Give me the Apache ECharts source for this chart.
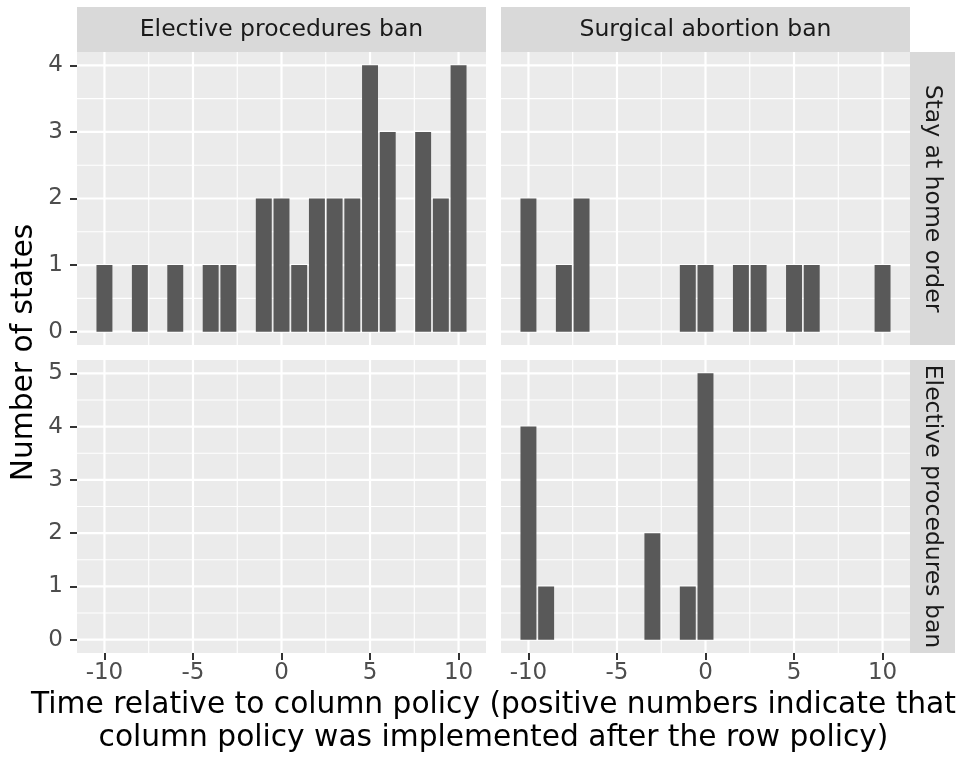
<!DOCTYPE html>
<html><head><meta charset="utf-8">
<script src="https://cdn.jsdelivr.net/npm/echarts@6/dist/echarts.min.js"></script>
<style>html,body{margin:0;padding:0;background:#fff}#c{width:961px;height:759px}</style>
</head><body><div id="c"></div>
<script>
// ---- data ----
const colStrips = ['Elective procedures ban', 'Surgical abortion ban'];
const rowStrips = ['Stay at home order', 'Elective procedures ban'];
const xTicks = [-10, -5, 0, 5, 10];
const xMinor = [-7.5, -2.5, 2.5, 7.5];
const yTicksTop = [0, 1, 2, 3, 4];
const yMinorTop = [0.5, 1.5, 2.5, 3.5];
const yTicksBottom = [0, 1, 2, 3, 4, 5];
const yMinorBottom = [0.5, 1.5, 2.5, 3.5, 4.5];
// row: Stay at home order, col: Elective procedures ban
const stayElecX = [-10, -8, -6, -4, -3, -1, 0, 1, 2, 3, 4, 5, 6, 8, 9, 10];
const stayElecN = [1, 1, 1, 1, 1, 2, 2, 1, 2, 2, 2, 4, 3, 3, 2, 4];
// row: Stay at home order, col: Surgical abortion ban
const staySurgX = [-10, -8, -7, -1, 0, 2, 3, 5, 6, 10];
const staySurgN = [2, 1, 2, 1, 1, 1, 1, 1, 1, 1];
// row: Elective procedures ban, col: Elective procedures ban (empty)
const elecElecX = [];
const elecElecN = [];
// row: Elective procedures ban, col: Surgical abortion ban
const elecSurgX = [-10, -9, -3, -1, 0];
const elecSurgN = [4, 1, 2, 1, 5];
const xTitle = 'Time relative to column policy (positive numbers indicate that\ncolumn policy was implemented after the row policy)';
const yTitle = 'Number of states';

// ---- layout ----
const FONT = '"DejaVu Sans", sans-serif';
const PL = [77, 501], PW = 409;
const PT = [52, 360], PH = 293;
const STRIP = 45;
const xRange = [-11.55, 11.55];
const yRanges = [[-0.2, 4.2], [-0.25, 5.25]];
const yTicks = [yTicksTop, yTicksBottom];
const yMinor = [yMinorTop, yMinorBottom];
const panels = [
  [stayElecX, stayElecN], [staySurgX, staySurgN],
  [elecElecX, elecElecN], [elecSurgX, elecSurgN]
];

const grids = [], xAxes = [], yAxes = [], series = [], graphics = [];

function renderGrid(params, api) {
  const cs = params.coordSys;
  const orient = api.value(2), major = api.value(3);
  const p = api.coord([api.value(0), api.value(1)]);
  const shape = orient === 0
    ? { x1: p[0], y1: cs.y, x2: p[0], y2: cs.y + cs.height }
    : { x1: cs.x, y1: p[1], x2: cs.x + cs.width, y2: p[1] };
  return { type: 'line', shape, silent: true,
    style: { stroke: '#FFFFFF', lineWidth: major ? 2.2 : 1.1 } };
}
function renderBar(params, api) {
  const x = api.value(0), y = api.value(1);
  const p0 = api.coord([x - 0.45, y]);
  const p1 = api.coord([x + 0.45, 0]);
  return { type: 'rect',
    shape: { x: p0[0], y: p0[1], width: p1[0] - p0[0], height: p1[1] - p0[1] },
    style: { fill: '#595959' } };
}

for (let r = 0; r < 2; r++) {
  for (let c = 0; c < 2; c++) {
    const i = r * 2 + c;
    grids.push({ left: PL[c], top: PT[r], width: PW, height: PH, show: true,
      backgroundColor: '#EBEBEB', borderWidth: 0, containLabel: false });
    xAxes.push({ type: 'value', gridIndex: i, min: xRange[0], max: xRange[1], position: 'bottom',
      axisLine: { show: false, onZero: false }, splitLine: { show: false },
      axisTick: { show: r === 1, length: 7, customValues: xTicks,
        lineStyle: { color: '#333333', width: 2 } },
      axisLabel: { show: r === 1, customValues: xTicks, margin: 9,
        color: '#4D4D4D', fontSize: 23, fontFamily: FONT } });
    yAxes.push({ type: 'value', gridIndex: i, min: yRanges[r][0], max: yRanges[r][1], position: 'left',
      axisLine: { show: false, onZero: false }, splitLine: { show: false },
      axisTick: { show: c === 0, length: 7, customValues: yTicks[r],
        lineStyle: { color: '#333333', width: 2 } },
      axisLabel: { show: c === 0, customValues: yTicks[r], margin: 14,
        color: '#4D4D4D', fontSize: 23, fontFamily: FONT } });
    const gl = [];
    xMinor.forEach(v => gl.push([v, 0, 0, 0]));
    yMinor[r].forEach(v => gl.push([0, v, 1, 0]));
    xTicks.forEach(v => gl.push([v, 0, 0, 1]));
    yTicks[r].forEach(v => gl.push([0, v, 1, 1]));
    series.push({ type: 'custom', xAxisIndex: i, yAxisIndex: i, z: 1, silent: true,
      renderItem: renderGrid, data: gl, animation: false });
    const [xs, ns] = panels[i];
    series.push({ type: 'custom', xAxisIndex: i, yAxisIndex: i, z: 2,
      renderItem: renderBar, data: xs.map((x, k) => [x, ns[k]]), animation: false });
  }
}

colStrips.forEach((s, c) => {
  graphics.push({ type: 'rect', x: PL[c], y: PT[0] - STRIP,
    shape: { width: PW, height: STRIP }, style: { fill: '#D9D9D9' } });
  graphics.push({ type: 'text', x: PL[c] + PW / 2, y: PT[0] - STRIP / 2,
    style: { text: s, fill: '#1A1A1A', font: '23.5px ' + FONT, align: 'center', verticalAlign: 'middle' } });
});
rowStrips.forEach((s, r) => {
  graphics.push({ type: 'rect', x: PL[1] + PW, y: PT[r],
    shape: { width: STRIP, height: PH }, style: { fill: '#D9D9D9' } });
  graphics.push({ type: 'text', x: PL[1] + PW + STRIP / 2, y: PT[r] + PH / 2, rotation: -Math.PI / 2,
    style: { text: s, fill: '#1A1A1A', font: '23.5px ' + FONT, align: 'center', verticalAlign: 'middle' } });
});
graphics.push({ type: 'text', x: 24, y: (PT[0] + PT[1] + PH) / 2, rotation: Math.PI / 2,
  style: { text: yTitle, fill: '#000000', font: '29.7px ' + FONT, align: 'center', verticalAlign: 'middle' } });
graphics.push({ type: 'text', x: (PL[0] + PL[1] + PW) / 2, y: 722,
  style: { text: xTitle, fill: '#000000', font: '29.7px ' + FONT, align: 'center', verticalAlign: 'middle', lineHeight: 33 } });

const chart = echarts.init(document.getElementById('c'), null, { renderer: 'canvas' });
chart.setOption({
  animation: false,
  backgroundColor: '#FFFFFF',
  grid: grids, xAxis: xAxes, yAxis: yAxes, series: series, graphic: graphics
});
</script>
</body></html>
